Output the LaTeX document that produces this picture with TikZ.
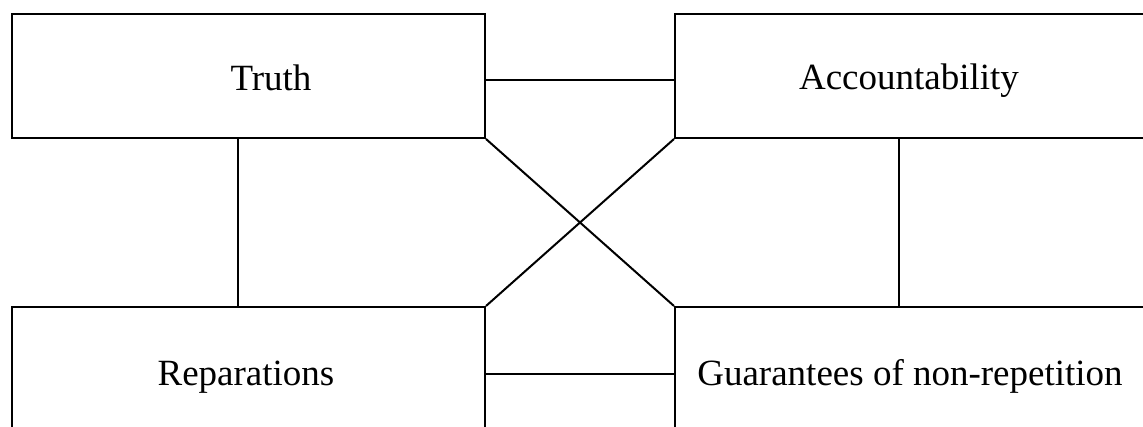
\documentclass[tikz,border=0pt]{standalone}
\usepackage{fontspec}
\setmainfont{Liberation Serif}
\begin{document}
\begin{tikzpicture}[x=1pt,y=-1pt,
  boxnode/.style={draw=black,line width=2pt,minimum width=473pt,minimum height=124pt,inner sep=0pt,anchor=north west},
  txt/.style={anchor=base,inner sep=0pt,font=\fontsize{37}{44}\selectfont},
  link/.style={draw=black,line width=2pt}]
\useasboundingbox (0,0) rectangle (1143,427);
\clip (0,0) rectangle (1143,427);
\node[boxnode] (T) at (11,13) {};
\node[boxnode] (A) at (674,13) {};
\node[boxnode] (R) at (11,306) {};
\node[boxnode] (G) at (674,306) {};
\node[txt] (tT) at (271,90.5) {Truth};
\node[txt] (tA) at (909,90) {Accountability};
\node[txt] (tR) at (246,385) {Reparations};
\node[txt] (tG) at (910,385) {Guarantees of non-repetition};
\draw[link] ([yshift=-4pt]T.east) -- ([yshift=-4pt]A.west);
\draw[link] ([yshift=-5pt]R.east) -- ([yshift=-5pt]G.west);
\draw[link] ([xshift=-10.5pt]T.south) -- ([xshift=-10.5pt]R.north);
\draw[link] ([xshift=-12.5pt]A.south) -- ([xshift=-12.5pt]G.north);
\draw[link] (T.south east) -- (G.north west);
\draw[link] (A.south west) -- (R.north east);
\end{tikzpicture}
\end{document}
